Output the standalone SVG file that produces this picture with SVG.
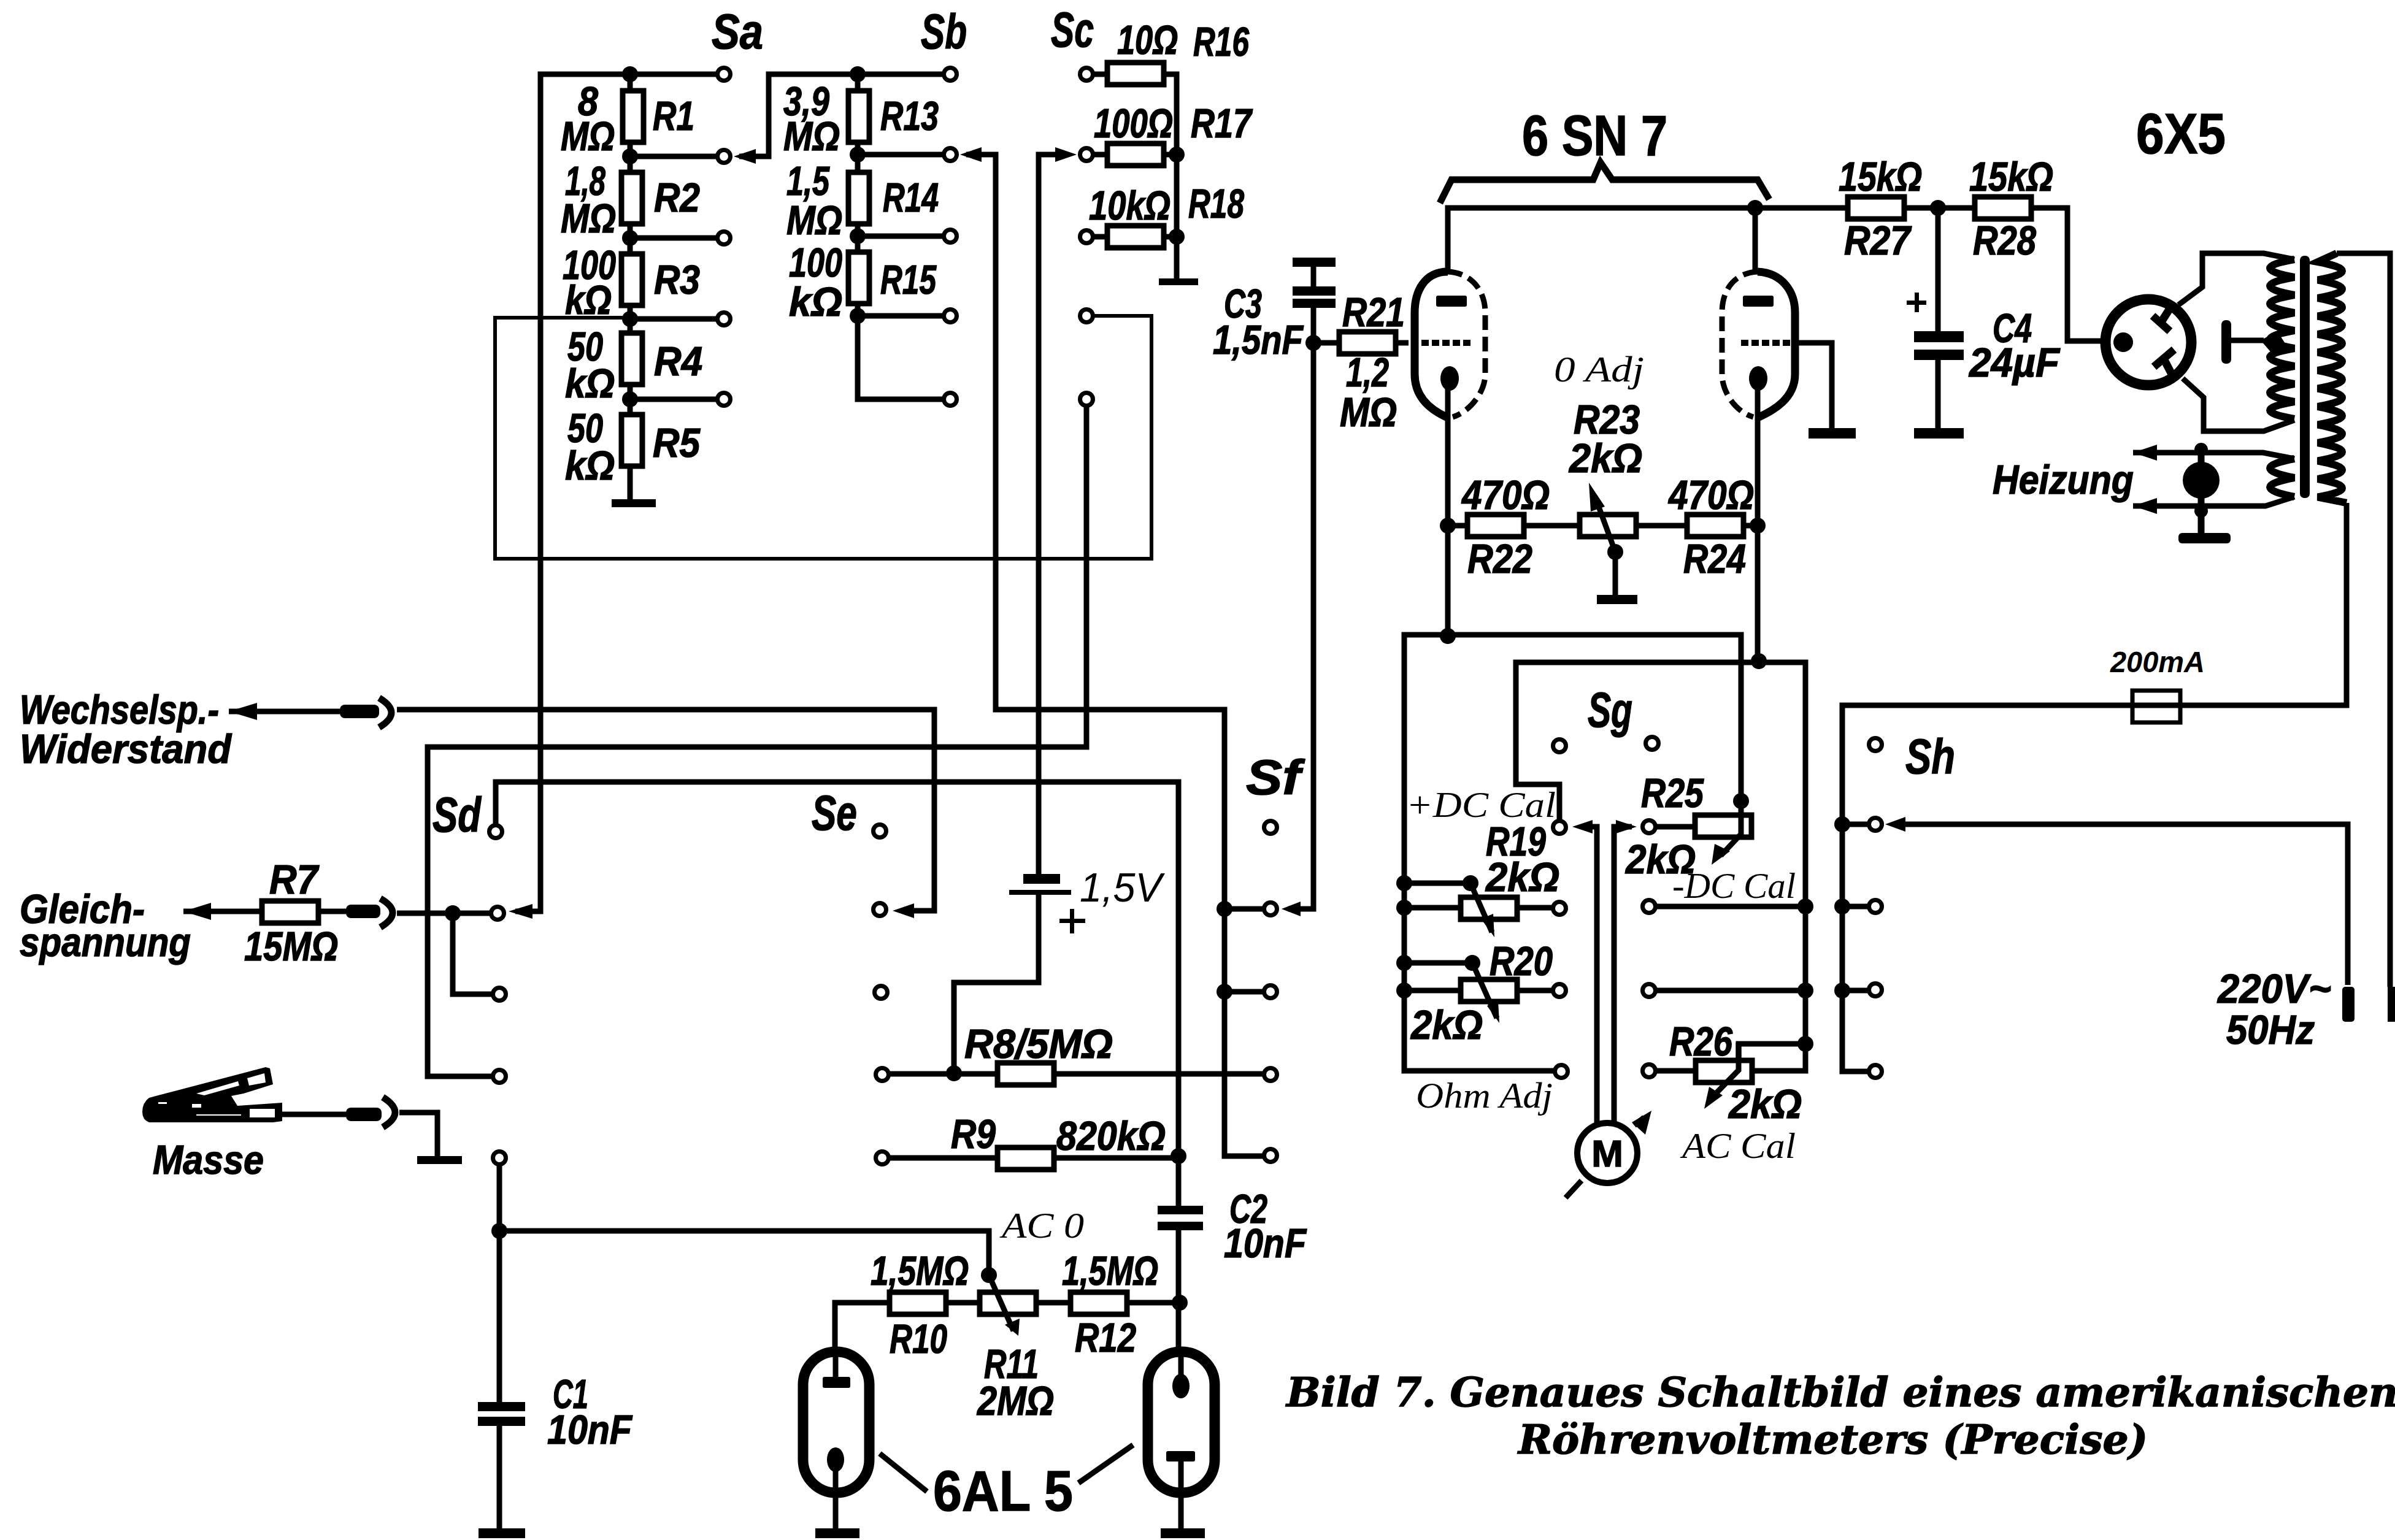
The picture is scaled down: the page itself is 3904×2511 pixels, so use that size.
<svg xmlns="http://www.w3.org/2000/svg" width="3904" height="2511" viewBox="0 0 3904 2511">
<style>
text{fill:#000;stroke:#000;stroke-width:1.5px;font-family:"Liberation Sans",Arial,sans-serif;font-weight:bold;font-style:italic;font-size:67px}
.b{font-size:80px}
.s{font-family:"Liberation Serif","Times New Roman",serif;font-weight:normal;font-size:60px;stroke:none}
.big{font-style:normal;font-size:92px}
.ti{font-family:"DejaVu Serif",serif;font-size:66px}
.w{fill:none;stroke:#000;stroke-width:9}
.hv{fill:none;stroke:#000;stroke-width:11}
.coil{fill:none;stroke:#000;stroke-width:12}
.th{fill:none;stroke:#000;stroke-width:6}
.r{fill:#fff;stroke:#000;stroke-width:9}
.k{fill:#fff;stroke:#000;stroke-width:7}
.n{fill:#000}
.tube{fill:none;stroke:#000;stroke-width:13}
.t6{fill:none;stroke:#000;stroke-width:17}
.dash{fill:none;stroke:#000;stroke-width:9;stroke-dasharray:24 11}
.dots{fill:none;stroke:#000;stroke-width:10;stroke-dasharray:12 5}
</style>
<defs>
<circle id="ct" r="10.5" class="k"/>
<circle id="nd" r="13" class="n"/>
<rect id="rv" x="-17" y="-42" width="34" height="84" class="r"/>
<rect id="rh" x="-46" y="-18" width="92" height="36" class="r"/>
</defs>
<rect width="3904" height="2511" fill="#fff"/>
<g id="connectors">
<path class="w" d="M1180 121H881V1486H840M1027 121V820M1027 255H1180M1027 388H1180M1027 520H1180M1027 651H1180"/>
<path class="w" d="M1205 255H1253V121H1549M1398 121V651H1549M1398 252H1549M1398 385H1549M1398 515H1549"/>
<path class="w" d="M1575 252H1623V1157H1996V1885H2071M1996 1482H2071M1996 1617H2071"/>
<path class="w" d="M1771 121H1918V460M1771 252H1918M1771 386H1918"/>
<path class="w" d="M1735 252H1693V1427M1693 1455V1602H1555V1750"/>
<path class="th" d="M1771 515H1877V911H807V518H1027"/>
<path class="w" d="M1771 651V1218H697V1755H814"/>
<path class="w" d="M373 1160H554M647 1157H1523V1485H1470"/>
<path class="w" d="M808 1356V1275H1921V1970M1921 2006V2198"/>
<path class="w" d="M1438 1751H2071M1434 1888H1921"/>
<path class="w" d="M814 1888V2286M814 2325V2500M814 2007H1612V2079M1361 2198V2124H1923"/>
<path class="w" d="M1362 2198V2250M1362 2380V2500M1925 2198V2260M1925 2375V2500"/>
<path class="w" d="M1434 2370L1511 2432M1847 2356L1758 2418"/>
<path class="w" d="M299 1486H564M647 1489H808M738 1489V1621H814"/>
<path class="w" d="M460 1817H564M651 1814H713V1892"/>
<path class="w" d="M2141 420V467M2141 501V1482H2100M2141 559H2296"/>
<path class="w" d="M2360 443V339H3370V556H3427M2861 339V443M2360 620V1037M2865 620V1080M2360 857H2865"/>
<path class="w" d="M2926 559H2986V706M3159 339V540M3159 586V706"/>
<path class="w" d="M2545 1746H2289V1035H2838V1306M2289 1440H2397M2289 1570H2400M2289 1480H2542M2289 1615H2542"/>
<path class="w" d="M2542 1349V1279H2471V1080H2943V1746H2688M2688 1478H2943M2688 1615H2943M2943 1702H2834V1730"/>
<path class="w" d="M2688 1348H2770"/>
<path class="w" d="M2580 1348H2603V1835M2660 1348H2631V1835"/>
<path class="w" d="M3825 820V1150H3003V1747H3057M3003 1344H3057M3003 1478H3057M3003 1615H3057M3090 1344H3827V1606"/>
<path class="w" d="M3809 413H3896V1609"/>
</g>
<g id="junctions">
<use href="#nd" x="1027" y="121"/><use href="#nd" x="1027" y="255"/><use href="#nd" x="1027" y="388"/><use href="#nd" x="1027" y="520"/><use href="#nd" x="1027" y="651"/>
<use href="#nd" x="1398" y="121"/><use href="#nd" x="1398" y="252"/><use href="#nd" x="1398" y="385"/><use href="#nd" x="1398" y="515"/>
<use href="#nd" x="1918" y="252"/><use href="#nd" x="1918" y="386"/>
<use href="#nd" x="738" y="1489"/><use href="#nd" x="1555" y="1750"/><use href="#nd" x="1921" y="1885"/><use href="#nd" x="1996" y="1482"/><use href="#nd" x="1996" y="1617"/>
<use href="#nd" x="814" y="2007"/><use href="#nd" x="1923" y="2124"/><use href="#nd" x="1612" y="2079"/>
<use href="#nd" x="2141" y="559"/><use href="#nd" x="2861" y="339"/><use href="#nd" x="3159" y="339"/>
<use href="#nd" x="2360" y="857"/><use href="#nd" x="2865" y="857"/><use href="#nd" x="2633" y="900"/>
<use href="#nd" x="2360" y="1037"/><use href="#nd" x="2867" y="1078"/>
<use href="#nd" x="2838" y="1306"/><use href="#nd" x="2289" y="1440"/><use href="#nd" x="2289" y="1480"/><use href="#nd" x="2289" y="1570"/><use href="#nd" x="2289" y="1615"/>
<use href="#nd" x="2397" y="1440"/><use href="#nd" x="2400" y="1570"/>
<use href="#nd" x="2943" y="1478"/><use href="#nd" x="2943" y="1615"/><use href="#nd" x="2943" y="1702"/>
<use href="#nd" x="3003" y="1344"/><use href="#nd" x="3003" y="1478"/><use href="#nd" x="3003" y="1615"/>
</g>
<g id="contacts">
<use href="#ct" x="1180" y="121"/><use href="#ct" x="1180" y="255"/><use href="#ct" x="1180" y="388"/><use href="#ct" x="1180" y="520"/><use href="#ct" x="1180" y="651"/>
<use href="#ct" x="1549" y="121"/><use href="#ct" x="1549" y="252"/><use href="#ct" x="1549" y="385"/><use href="#ct" x="1549" y="515"/><use href="#ct" x="1549" y="651"/>
<use href="#ct" x="1771" y="121"/><use href="#ct" x="1771" y="252"/><use href="#ct" x="1771" y="386"/><use href="#ct" x="1771" y="515"/><use href="#ct" x="1771" y="651"/>
<use href="#ct" x="808" y="1356"/><use href="#ct" x="811" y="1489"/><use href="#ct" x="814" y="1621"/><use href="#ct" x="814" y="1755"/><use href="#ct" x="814" y="1888"/>
<use href="#ct" x="1434" y="1355"/><use href="#ct" x="1434" y="1483"/><use href="#ct" x="1436" y="1618"/><use href="#ct" x="1438" y="1752"/><use href="#ct" x="1438" y="1888"/>
<use href="#ct" x="2071" y="1349"/><use href="#ct" x="2071" y="1482"/><use href="#ct" x="2071" y="1617"/><use href="#ct" x="2071" y="1752"/><use href="#ct" x="2071" y="1884"/>
<use href="#ct" x="2542" y="1216"/><use href="#ct" x="2693" y="1212"/>
<use href="#ct" x="2542" y="1349"/><use href="#ct" x="2542" y="1481"/><use href="#ct" x="2542" y="1615"/><use href="#ct" x="2545" y="1747"/>
<use href="#ct" x="2688" y="1348"/><use href="#ct" x="2688" y="1478"/><use href="#ct" x="2688" y="1615"/><use href="#ct" x="2688" y="1746"/>
<use href="#ct" x="3057" y="1214"/><use href="#ct" x="3057" y="1344"/><use href="#ct" x="3057" y="1478"/><use href="#ct" x="3057" y="1614"/><use href="#ct" x="3057" y="1747"/>
</g>
<g id="wiper-arrows" class="n">
<polygon points="1196,255 1232,243 1232,267"/><polygon points="1565,252 1600,240 1600,264"/><polygon points="1755,252 1720,240 1720,264"/>
<polygon points="829,1486 868,1474 868,1498"/><polygon points="1455,1485 1490,1473 1490,1497"/><polygon points="2089,1482 2120,1470 2120,1494"/>
<polygon points="2563,1348 2596,1337 2596,1359"/><polygon points="2668,1348 2634,1337 2634,1359"/><polygon points="3073,1344 3106,1332 3106,1356"/>
<polygon points="373,1160 419,1146 419,1174"/><polygon points="299,1486 344,1472 344,1500"/>
<polygon points="3477,738 3516,725 3516,751"/><polygon points="3477,825 3516,812 3516,838"/>
</g>
<g id="resistors">
<g id="R1"><use href="#rv" x="1032" y="190"/></g><g id="R2"><use href="#rv" x="1030" y="323"/></g><g id="R3"><use href="#rv" x="1030" y="456"/></g><g id="R4"><use href="#rv" x="1030" y="585"/></g><g id="R5"><use href="#rv" x="1030" y="718"/></g>
<g id="R13"><use href="#rv" x="1400" y="190"/></g><g id="R14"><use href="#rv" x="1400" y="323"/></g><g id="R15"><use href="#rv" x="1400" y="453"/></g>
<g id="R16"><use href="#rh" x="1851" y="120"/></g><g id="R17"><use href="#rh" x="1851" y="252"/></g><g id="R18"><use href="#rh" x="1851" y="386"/></g>
<g id="R7"><use href="#rh" x="473" y="1487"/></g>
<g id="R8"><use href="#rh" x="1672" y="1751"/></g><g id="R9"><use href="#rh" x="1672" y="1889"/></g>
<g id="R10"><use href="#rh" x="1496" y="2125"/></g><g id="R12"><use href="#rh" x="1791" y="2125"/></g>
<g id="R11"><use href="#rh" x="1643" y="2125"/><path class="w" d="M1612 2079L1652 2170"/><polygon class="n" points="1638,2160 1662,2150 1660,2178"/></g>
<g id="R21"><use href="#rh" x="2229" y="559"/></g><g id="R22"><use href="#rh" x="2438" y="857"/></g><g id="R24"><use href="#rh" x="2796" y="857"/></g>
<g id="R23"><use href="#rh" x="2621" y="857"/><path class="w" d="M2633 980V900L2600 810"/><polygon class="n" points="2590,787 2616,826 2593,834"/></g>
<g id="R27"><use href="#rh" x="3058" y="339"/></g><g id="R28"><use href="#rh" x="3265" y="339"/></g>
<g id="R25"><use href="#rh" x="2809" y="1347"/><path class="w" d="M2838 1306V1360L2805 1395"/><polygon class="n" points="2790,1410 2795,1376 2820,1388"/></g>
<g id="R19"><use href="#rh" x="2427" y="1481"/><path class="w" d="M2397 1440L2432 1520"/><polygon class="n" points="2436,1528 2414,1498 2434,1490"/></g>
<g id="R20"><use href="#rh" x="2427" y="1615"/><path class="w" d="M2400 1570L2440 1660"/><polygon class="n" points="2444,1668 2424,1640 2442,1632"/></g>
<g id="R26"><use href="#rh" x="2810" y="1747"/><path class="w" d="M2834 1700V1745L2790 1790"/><polygon class="n" points="2778,1808 2786,1772 2808,1786"/></g>
</g>
<g id="capacitors" class="n">
<g id="C1"><rect x="779" y="2286" width="77" height="15"/><rect x="779" y="2310" width="77" height="15"/></g>
<g id="C2"><rect x="1887" y="1966" width="74" height="14"/><rect x="1887" y="1992" width="74" height="14"/></g>
<g id="C3"><rect x="2107" y="467" width="70" height="15"/><rect x="2107" y="487" width="70" height="15"/></g>
<g id="C4"><rect x="3120" y="540" width="81" height="18"/><rect x="3120" y="570" width="81" height="17"/></g>
<g id="battery"><rect x="1668" y="1425" width="60" height="16"/><rect x="1645" y="1451" width="101" height="8"/></g>
</g>
<g id="grounds" class="n">
<rect x="997" y="814" width="72" height="13"/><rect x="1889" y="454" width="64" height="11"/><rect x="680" y="1885" width="73" height="13"/>
<rect x="780" y="2492" width="76" height="16"/><rect x="1329" y="2492" width="72" height="16"/><rect x="1892" y="2492" width="72" height="16"/>
<rect x="2107" y="420" width="70" height="15"/><rect x="2948" y="698" width="77" height="17"/><rect x="3120" y="698" width="81" height="17"/><rect x="2603" y="970" width="66" height="15"/><rect x="3551" y="869" width="85" height="17" rx="6"/>
</g>
<g id="plugs">
<rect class="n" x="554" y="1149" width="64" height="22" rx="8"/><rect class="n" x="564" y="1475" width="56" height="22" rx="8"/><rect class="n" x="564" y="1806" width="58" height="22" rx="8"/>
<path class="hv" d="M618 1138Q658 1162 618 1186M620 1465Q660 1488 620 1512M624 1789Q664 1814 624 1838"/>
<rect class="n" x="3818" y="1609" width="20" height="57" rx="5"/><rect class="n" x="3892" y="1609" width="12" height="57"/>
</g>
<g id="clip">
<path class="n" d="M232 1813Q232 1798 243 1790L433 1740L440 1742L445 1768L397 1783L377 1787L387 1803L460 1798V1828L445 1830H243Q232 1826 232 1813Z"/>
<polygon points="403,1758 431,1750 433,1765 406,1770" fill="#fff"/>
<polygon points="320,1783 388,1763 390,1770 333,1786" fill="#fff"/>
<rect x="407" y="1808" width="41" height="14" fill="#fff"/>
<rect x="313" y="1800" width="15" height="6" fill="#fff"/>
<rect x="320" y="1817" width="73" height="2" fill="#fff"/>
<rect x="258" y="1797" width="14" height="3" fill="#fff"/>
</g>
<g id="tube-6SN7-a">
<path class="tube" d="M2360 443C2322 443 2306 475 2306 510V610C2306 650 2335 670 2360 681"/>
<path class="dash" d="M2360 443C2400 445 2421 475 2421 510V610C2421 640 2395 672 2368 680"/>
<rect class="n" x="2341" y="482" width="50" height="18" rx="3"/><ellipse class="n" cx="2363" cy="617" rx="15" ry="20"/>
<path class="dots" d="M2300 559H2398"/>
</g>
<g id="tube-6SN7-b">
<path class="tube" d="M2865 443C2905 445 2926 475 2926 510V610C2926 650 2890 670 2865 681"/>
<path class="dash" d="M2865 443C2825 445 2807 475 2807 510V610C2807 640 2830 672 2858 680"/>
<rect class="n" x="2841" y="482" width="50" height="18" rx="3"/><ellipse class="n" cx="2866" cy="617" rx="15" ry="20"/>
<path class="dots" d="M2838 559H2926"/>
</g>
<g id="tube-6AL5-a">
<rect class="t6" x="1309" y="2204" width="108" height="230" rx="54"/>
<rect class="n" x="1341" y="2245" width="45" height="18" rx="3"/><ellipse class="n" cx="1362" cy="2380" rx="14" ry="20"/>
</g>
<g id="tube-6AL5-b">
<rect class="t6" x="1871" y="2204" width="109" height="230" rx="54"/>
<ellipse class="n" cx="1925" cy="2260" rx="14" ry="20"/><rect class="n" x="1901" y="2366" width="47" height="17" rx="3"/>
</g>
<g id="rectifier-6X5">
<circle cx="3502" cy="558" r="70" fill="none" stroke="#000" stroke-width="17"/>
<circle class="n" cx="3461" cy="558" r="16"/>
<path class="w" d="M3551 497L3590 468V413H3690L3740 423M3558 617L3592 648V703H3690L3740 685M3629 555H3690"/>
<polygon class="n" points="3685,555 3712,540 3725,560 3705,578"/>
<path fill="none" stroke="#000" stroke-width="13" d="M3509 515L3537 540M3523 525L3537 503M3511 598L3544 570M3527 585L3540 610"/>
<rect class="n" x="3621" y="522" width="16" height="71" rx="7"/>
</g>
<g id="transformer">
<path class="coil" d="M3740 423q-80 14 0 29q-80 14 0 29q-80 14 0 29q-80 14 0 29q-80 14 0 29q-80 14 0 29q-80 14 0 29q-80 14 0 29q-80 14 0 28"/>
<path class="coil" d="M3809 413L3778 427q80 15 0 29.5q80 15 0 29.5q80 15 0 29.5q80 15 0 29.5q80 15 0 29.5q80 15 0 29.5q80 15 0 29.5q80 15 0 29.5q80 15 0 29.5q80 15 0 29.5q80 15 0 29.5q80 15 0 29.5q80 15 0 29.5L3825 820"/>
<path class="w" d="M3477 738H3689L3740 748M3740 810L3693 825H3477"/>
<path class="coil" d="M3740 748q-80 15 0 31q-80 15 0 31"/>
<rect class="n" x="3749" y="417" width="16" height="395" rx="7"/>
<path class="hv" d="M3588 733V877"/>
<circle cx="3588" cy="733" r="11" class="n"/>
<circle cx="3588" cy="783" r="30" class="n"/>
<circle cx="3588" cy="833" r="11" class="n"/>
</g>
<g id="fuse"><rect x="3476" y="1126" width="78" height="52" fill="none" stroke="#000" stroke-width="7"/></g>
<g id="meter">
<path class="w" d="M2552 1953L2578 1925M2664 1835L2680 1822"/>
<polygon class="n" points="2692,1811 2682,1850 2660,1830"/>
<ellipse cx="2620" cy="1880" rx="49" ry="49" fill="#fff" stroke="#000" stroke-width="10"/>
<text x="2620" y="1902" text-anchor="middle" style="font-style:normal;font-size:62px">M</text>
</g>
<path id="brace" fill="none" stroke="#000" stroke-width="11" d="M2347 331L2366 293H2597L2609 265L2628 293H2865L2884 325"/>
<g id="plus-signs" class="n"><rect x="1727" y="1498" width="42" height="7"/><rect x="1744" y="1482" width="7" height="40"/><rect x="3108" y="490" width="32" height="7"/><rect x="3121" y="477" width="7" height="32"/></g>
<g id="labels">
<text class="b" x="1160" y="79" textLength="84" lengthAdjust="spacingAndGlyphs">Sa</text>
<text class="b" x="1501" y="79" textLength="75" lengthAdjust="spacingAndGlyphs">Sb</text>
<text class="b" x="1713" y="76" textLength="70" lengthAdjust="spacingAndGlyphs">Sc</text>
<text x="1821" y="88" textLength="99" lengthAdjust="spacingAndGlyphs">10Ω</text>
<text x="1945" y="91" textLength="91" lengthAdjust="spacingAndGlyphs">R16</text>
<text x="1783" y="224" textLength="129" lengthAdjust="spacingAndGlyphs">100Ω</text>
<text x="1941" y="224" textLength="99" lengthAdjust="spacingAndGlyphs">R17</text>
<text x="1775" y="358" textLength="133" lengthAdjust="spacingAndGlyphs">10kΩ</text>
<text x="1937" y="355" textLength="91" lengthAdjust="spacingAndGlyphs">R18</text>
<text x="942" y="188" textLength="33" lengthAdjust="spacingAndGlyphs">8</text>
<text x="914" y="245" textLength="88" lengthAdjust="spacingAndGlyphs">MΩ</text>
<text x="1064" y="212" textLength="68" lengthAdjust="spacingAndGlyphs">R1</text>
<text x="921" y="318" textLength="66" lengthAdjust="spacingAndGlyphs">1,8</text>
<text x="914" y="379" textLength="90" lengthAdjust="spacingAndGlyphs">MΩ</text>
<text x="1066" y="345" textLength="75" lengthAdjust="spacingAndGlyphs">R2</text>
<text x="917" y="455" textLength="87" lengthAdjust="spacingAndGlyphs">100</text>
<text x="921" y="512" textLength="76" lengthAdjust="spacingAndGlyphs">kΩ</text>
<text x="1066" y="479" textLength="75" lengthAdjust="spacingAndGlyphs">R3</text>
<text x="925" y="588" textLength="58" lengthAdjust="spacingAndGlyphs">50</text>
<text x="921" y="648" textLength="81" lengthAdjust="spacingAndGlyphs">kΩ</text>
<text x="1066" y="612" textLength="79" lengthAdjust="spacingAndGlyphs">R4</text>
<text x="925" y="721" textLength="58" lengthAdjust="spacingAndGlyphs">50</text>
<text x="921" y="782" textLength="81" lengthAdjust="spacingAndGlyphs">kΩ</text>
<text x="1064" y="745" textLength="77" lengthAdjust="spacingAndGlyphs">R5</text>
<text x="1277" y="188" textLength="75" lengthAdjust="spacingAndGlyphs">3,9</text>
<text x="1277" y="245" textLength="92" lengthAdjust="spacingAndGlyphs">MΩ</text>
<text x="1435" y="212" textLength="95" lengthAdjust="spacingAndGlyphs">R13</text>
<text x="1282" y="318" textLength="70" lengthAdjust="spacingAndGlyphs">1,5</text>
<text x="1282" y="382" textLength="91" lengthAdjust="spacingAndGlyphs">MΩ</text>
<text x="1439" y="345" textLength="91" lengthAdjust="spacingAndGlyphs">R14</text>
<text x="1286" y="451" textLength="87" lengthAdjust="spacingAndGlyphs">100</text>
<text x="1286" y="515" textLength="87" lengthAdjust="spacingAndGlyphs">kΩ</text>
<text x="1435" y="479" textLength="91" lengthAdjust="spacingAndGlyphs">R15</text>
<text x="1995" y="518" textLength="62" lengthAdjust="spacingAndGlyphs">C3</text>
<text x="1977" y="577" textLength="147" lengthAdjust="spacingAndGlyphs">1,5nF</text>
<text x="2188" y="532" textLength="102" lengthAdjust="spacingAndGlyphs">R21</text>
<text x="2194" y="630" textLength="70" lengthAdjust="spacingAndGlyphs">1,2</text>
<text x="2184" y="695" textLength="93" lengthAdjust="spacingAndGlyphs">MΩ</text>
<text class="big" x="2481" y="253" textLength="237" lengthAdjust="spacingAndGlyphs">6 SN 7</text>
<text class="big" x="3482" y="250" textLength="146" lengthAdjust="spacingAndGlyphs">6X5</text>
<text x="2997" y="311" textLength="136" lengthAdjust="spacingAndGlyphs">15kΩ</text>
<text x="3210" y="311" textLength="137" lengthAdjust="spacingAndGlyphs">15kΩ</text>
<text x="3006" y="415" textLength="108" lengthAdjust="spacingAndGlyphs">R27</text>
<text x="3216" y="415" textLength="103" lengthAdjust="spacingAndGlyphs">R28</text>
<text x="3248" y="558" textLength="64" lengthAdjust="spacingAndGlyphs">C4</text>
<text x="3210" y="614" textLength="147" lengthAdjust="spacingAndGlyphs">24µF</text>
<text class="s" x="2533" y="622" textLength="147" lengthAdjust="spacingAndGlyphs">0 Adj</text>
<text x="2565" y="707" textLength="108" lengthAdjust="spacingAndGlyphs">R23</text>
<text x="2558" y="770" textLength="119" lengthAdjust="spacingAndGlyphs">2kΩ</text>
<text x="2383" y="830" textLength="143" lengthAdjust="spacingAndGlyphs">470Ω</text>
<text x="2720" y="830" textLength="139" lengthAdjust="spacingAndGlyphs">470Ω</text>
<text x="2392" y="934" textLength="106" lengthAdjust="spacingAndGlyphs">R22</text>
<text x="2744" y="934" textLength="102" lengthAdjust="spacingAndGlyphs">R24</text>
<text x="3248" y="805" textLength="230" lengthAdjust="spacingAndGlyphs">Heizung</text>
<text class="b" x="2588" y="1185" textLength="73" lengthAdjust="spacingAndGlyphs">Sg</text>
<text class="b" x="3106" y="1261" textLength="81" lengthAdjust="spacingAndGlyphs">Sh</text>
<text class="b" x="705" y="1356" textLength="79" lengthAdjust="spacingAndGlyphs">Sd</text>
<text class="b" x="1323" y="1353" textLength="74" lengthAdjust="spacingAndGlyphs">Se</text>
<text class="b" x="2031" y="1295" textLength="89" lengthAdjust="spacingAndGlyphs">Sf</text>
<text class="s" x="2292" y="1332" textLength="244" lengthAdjust="spacingAndGlyphs">+DC Cal</text>
<text class="s" x="2726" y="1464" textLength="201" lengthAdjust="spacingAndGlyphs">-DC Cal</text>
<text class="s" x="2308" y="1806" textLength="223" lengthAdjust="spacingAndGlyphs">Ohm Adj</text>
<text class="s" x="2742" y="1888" textLength="185" lengthAdjust="spacingAndGlyphs">AC Cal</text>
<text class="s" x="1633" y="2018" textLength="134" lengthAdjust="spacingAndGlyphs">AC 0</text>
<text x="3440" y="1096" textLength="154" lengthAdjust="spacingAndGlyphs" style="font-size:48px;stroke:none">200mA</text>
<text x="2675" y="1316" textLength="102" lengthAdjust="spacingAndGlyphs">R25</text>
<text x="2650" y="1424" textLength="114" lengthAdjust="spacingAndGlyphs">2kΩ</text>
<text x="2422" y="1395" textLength="98" lengthAdjust="spacingAndGlyphs">R19</text>
<text x="2422" y="1453" textLength="120" lengthAdjust="spacingAndGlyphs">2kΩ</text>
<text x="2428" y="1590" textLength="103" lengthAdjust="spacingAndGlyphs">R20</text>
<text x="2300" y="1694" textLength="117" lengthAdjust="spacingAndGlyphs">2kΩ</text>
<text x="2721" y="1721" textLength="103" lengthAdjust="spacingAndGlyphs">R26</text>
<text x="2818" y="1823" textLength="119" lengthAdjust="spacingAndGlyphs">2kΩ</text>
<text x="3615" y="1635" textLength="185" lengthAdjust="spacingAndGlyphs">220V~</text>
<text x="3629" y="1702" textLength="144" lengthAdjust="spacingAndGlyphs">50Hz</text>
<text x="32" y="1180" textLength="325" lengthAdjust="spacingAndGlyphs">Wechselsp.-</text>
<text x="32" y="1244" textLength="345" lengthAdjust="spacingAndGlyphs">Widerstand</text>
<text x="32" y="1505" textLength="204" lengthAdjust="spacingAndGlyphs">Gleich-</text>
<text x="32" y="1559" textLength="279" lengthAdjust="spacingAndGlyphs">spannung</text>
<text x="439" y="1457" textLength="79" lengthAdjust="spacingAndGlyphs">R7</text>
<text x="398" y="1566" textLength="153" lengthAdjust="spacingAndGlyphs">15MΩ</text>
<text x="249" y="1914" textLength="181" lengthAdjust="spacingAndGlyphs">Masse</text>
<text x="1572" y="1725" textLength="242" lengthAdjust="spacingAndGlyphs">R8/5MΩ</text>
<text x="1550" y="1872" textLength="73" lengthAdjust="spacingAndGlyphs">R9</text>
<text x="1722" y="1875" textLength="178" lengthAdjust="spacingAndGlyphs">820kΩ</text>
<text x="1760" y="1470" textLength="134" lengthAdjust="spacingAndGlyphs" style="font-weight:normal;stroke:none">1,5V</text>
<text x="2004" y="1994" textLength="62" lengthAdjust="spacingAndGlyphs">C2</text>
<text x="1995" y="2050" textLength="134" lengthAdjust="spacingAndGlyphs">10nF</text>
<text x="901" y="2296" textLength="58" lengthAdjust="spacingAndGlyphs">C1</text>
<text x="892" y="2354" textLength="138" lengthAdjust="spacingAndGlyphs">10nF</text>
<text x="1419" y="2095" textLength="160" lengthAdjust="spacingAndGlyphs">1,5MΩ</text>
<text x="1731" y="2095" textLength="157" lengthAdjust="spacingAndGlyphs">1,5MΩ</text>
<text x="1450" y="2206" textLength="94" lengthAdjust="spacingAndGlyphs">R10</text>
<text x="1752" y="2204" textLength="100" lengthAdjust="spacingAndGlyphs">R12</text>
<text x="1604" y="2247" textLength="89" lengthAdjust="spacingAndGlyphs">R11</text>
<text x="1593" y="2307" textLength="125" lengthAdjust="spacingAndGlyphs">2MΩ</text>
<text class="big" x="1521" y="2463" textLength="228" lengthAdjust="spacingAndGlyphs">6AL 5</text>
<text class="ti" x="2097" y="2293" textLength="1812" lengthAdjust="spacingAndGlyphs">Bild 7. Genaues Schaltbild eines amerikanischen</text>
<text class="ti" x="2475" y="2370" textLength="1026" lengthAdjust="spacingAndGlyphs">Röhrenvoltmeters (Precise)</text>
</g>
</svg>
